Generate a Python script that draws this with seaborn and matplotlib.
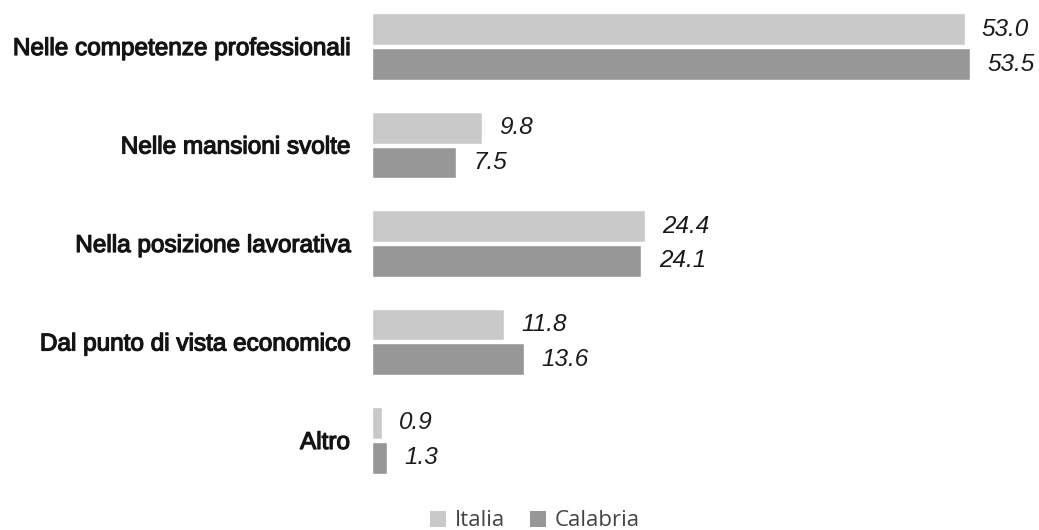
import matplotlib
matplotlib.use("Agg")
import matplotlib.pyplot as plt
import matplotlib.patheffects as pe
import seaborn as sns
import pandas as pd
from matplotlib.patches import Patch

categories = ["Nelle competenze professionali", "Nelle mansioni svolte",
              "Nella posizione lavorativa", "Dal punto di vista economico", "Altro"]
italia = [53.0, 9.8, 24.4, 11.8, 0.9]
calabria = [53.5, 7.5, 24.1, 13.6, 1.3]
series = ["Italia", "Calabria"]
colors = ["#c9c9c9", "#979797"]

df = pd.DataFrame({
    "cat": categories * 2,
    "val": italia + calabria,
    "serie": [series[0]] * len(categories) + [series[1]] * len(categories),
})

sns.set_theme(style="white")
plt.rcParams['font.family'] = ['Liberation Sans', 'DejaVu Sans']

fig = plt.figure(figsize=(10.39, 5.30), dpi=100)
ax = fig.add_axes([372/1039, 45.5/530, (1030-372)/1039, 482/530])

sns.barplot(data=df, y="cat", x="val", hue="serie", order=categories,
            hue_order=series, palette=colors, orient="h", width=0.71, gap=0.086,
            ax=ax, legend=False, saturation=1)

ax.set_xlim(0, 658/11.18)
ax.set_ylim(4.447, -0.447)
ax.set_xlabel("")
ax.set_ylabel("")
ax.set_xticks([])
for s in ax.spines.values():
    s.set_visible(False)
ax.tick_params(axis="y", length=0, pad=16)
for lab in ax.get_yticklabels():
    lab.set_fontsize(17.5)
    lab.set_color("#141414")
    lab.set_path_effects([pe.withStroke(linewidth=0.9, foreground="#141414")])

for cont in ax.containers:
    labels = [f"{v:.1f}" for v in cont.datavalues]
    ax.bar_label(cont, labels=labels, padding=12.5, fontsize=17.5,
                 fontstyle="italic", color="#1a1a1a")

handles = [Patch(facecolor=c, edgecolor="none") for c in colors]
fig.legend(handles, series, loc="center", bbox_to_anchor=(535/1039, 1 - 521/530),
           ncol=2, frameon=False, handlelength=0.72, handleheight=0.72,
           handletextpad=0.4, columnspacing=1.1, labelcolor="#444444",
           prop={"family": ["Open Sans", "DejaVu Sans"], "size": 16})

fig.savefig("out.png", dpi=100)
